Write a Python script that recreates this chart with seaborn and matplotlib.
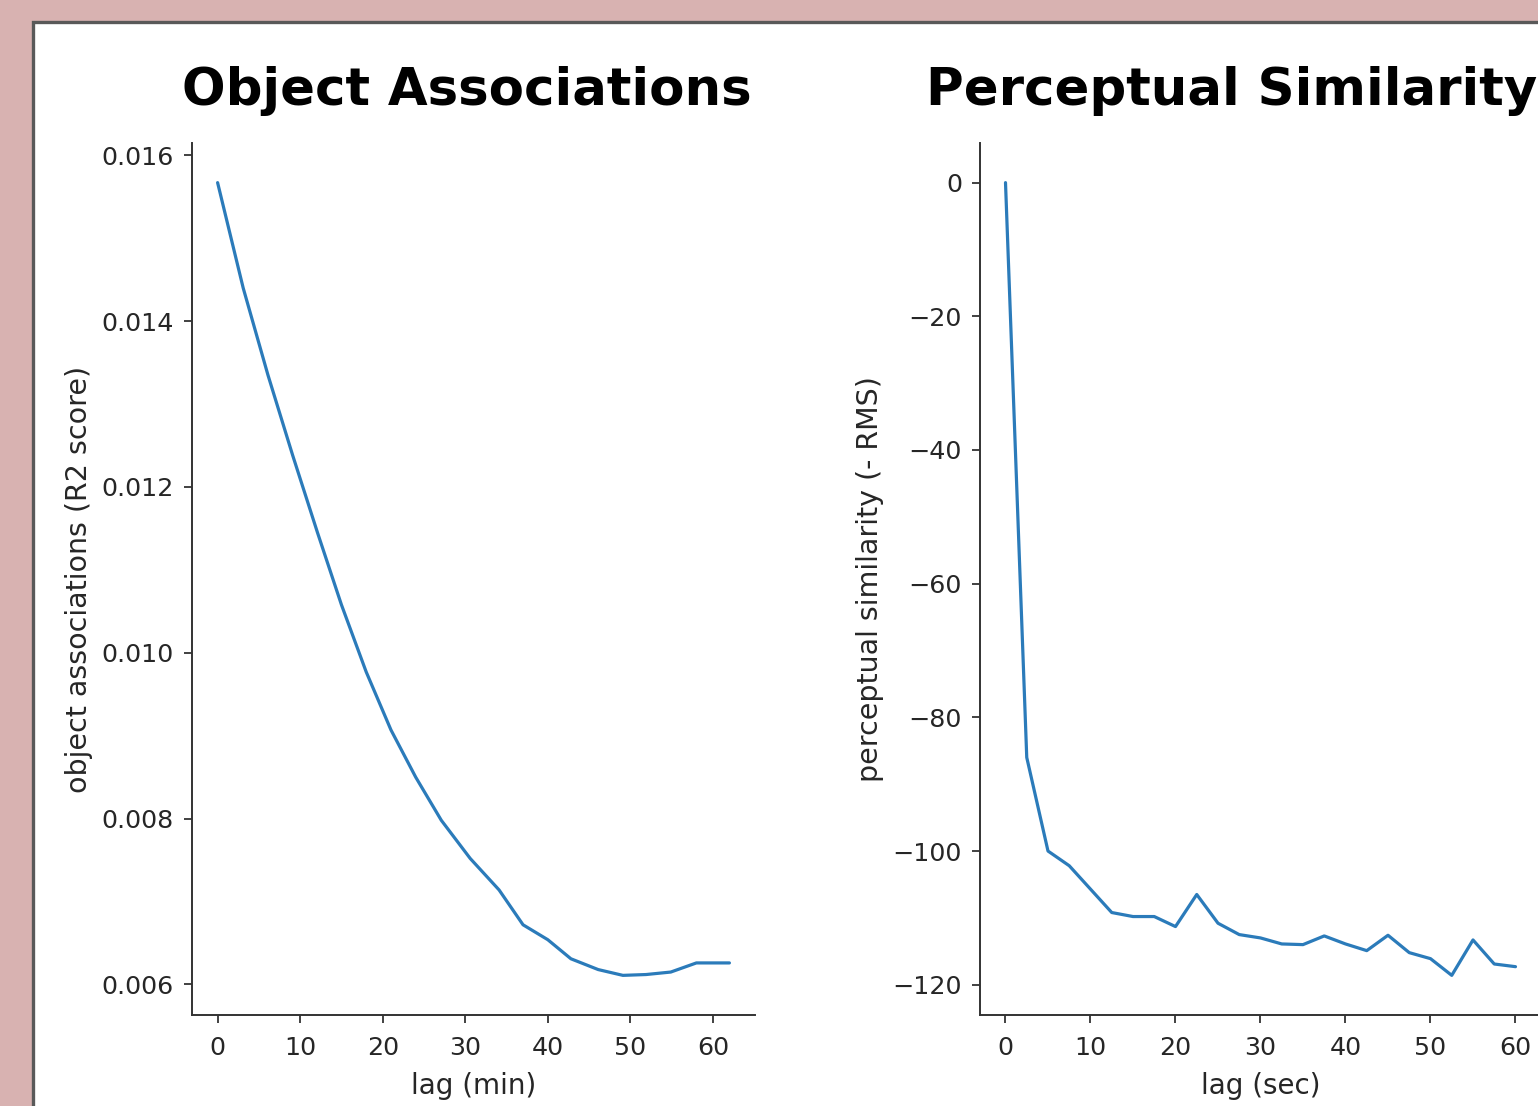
import matplotlib
matplotlib.use("Agg")
import matplotlib.pyplot as plt
from matplotlib.patches import Rectangle
import seaborn as sns
import pandas as pd

# ---- data ----
obj_lag_min = [0, 3.1, 6.1, 9.1, 12.1, 15.0, 18.0, 21.0, 24.0, 27.1, 30.6,
               34.1, 37.0, 40.0, 42.8, 46.1, 49.1, 51.9, 54.9, 58.0, 62.0]
obj_r2 = [0.01567, 0.01440, 0.01335, 0.01238, 0.01145, 0.01058, 0.00977,
          0.00907, 0.00850, 0.00798, 0.00752, 0.00714, 0.00672, 0.00654,
          0.00631, 0.00618, 0.00611, 0.00612, 0.00615, 0.00626, 0.00626]

perc_lag_sec = [0, 2.5, 5, 7.5, 10, 12.5, 15, 17.5, 20, 22.5, 25, 27.5, 30,
                32.5, 35, 37.5, 40, 42.5, 45, 47.5, 50, 52.5, 55, 57.5, 60]
perc_neg_rms = [0, -86.0, -100.0, -102.2, -105.7, -109.2, -109.8, -109.8,
                -111.3, -106.5, -110.8, -112.5, -113.0, -113.9, -114.0,
                -112.7, -113.9, -114.9, -112.6, -115.2, -116.1, -118.6,
                -113.3, -116.9, -117.3]

obj_yticks = [0.006, 0.008, 0.010, 0.012, 0.014, 0.016]
perc_yticks = [0, -20, -40, -60, -80, -100, -120]
xticks_vals = [0, 10, 20, 30, 40, 50, 60]

titles = ["Object Associations", "Perceptual Similarity"]
xlabels = ["lag (min)", "lag (sec)"]
ylabels = ["object associations (R2 score)", "perceptual similarity (- RMS)"]

df_obj = pd.DataFrame({"lag": obj_lag_min, "value": obj_r2})
df_perc = pd.DataFrame({"lag": perc_lag_sec, "value": perc_neg_rms})

# ---- style ----
sns.set_style("ticks")
plt.rcParams["font.family"] = ["DejaVu Sans"]

W, H = 1538, 1106
fig = plt.figure(figsize=(W / 100, H / 100), dpi=100)
fig.patch.set_facecolor("#d8b2b1")

# white slide panel with grey border, running off the right/bottom edges
panel = Rectangle((33 / W, -0.1), 1.2, (1 - 22 / H) + 0.1,
                  transform=fig.transFigure, facecolor="white",
                  edgecolor="#595959", linewidth=2.4, zorder=-10)
fig.patches.append(panel)

ax1 = fig.add_axes([192 / W, (H - 1015) / H, 563 / W, 872 / H])
ax2 = fig.add_axes([980 / W, (H - 1015) / H, 561 / W, 872 / H])
ax1.set_zorder(5)
ax2.set_zorder(5)

line_color = "#2b7bba"
sns.lineplot(data=df_obj, x="lag", y="value", ax=ax1, color=line_color,
             linewidth=2.3)
sns.lineplot(data=df_perc, x="lag", y="value", ax=ax2, color=line_color,
             linewidth=2.3)

title_x = [0.489, 0.449]
for i, (ax, yt) in enumerate(zip([ax1, ax2], [obj_yticks, perc_yticks])):
    ax.patch.set_alpha(0.0)
    ax.set_xticks(xticks_vals)
    ax.set_yticks(yt)
    ax.tick_params(axis="both", labelsize=18.3, length=6, width=1.3,
                   pad=7, colors="#333333", labelcolor="#262626")
    ax.tick_params(axis="x", pad=9)
    ax.set_xlabel(xlabels[i], fontsize=20, labelpad=9, color="#262626")
    ax.set_ylabel(ylabels[i], fontsize=20.5, labelpad=6, color="#262626")
    ax.set_title(titles[i], fontsize=37, fontweight="bold", pad=27,
                 x=title_x[i], color="black")
    for s in ["left", "bottom"]:
        ax.spines[s].set_linewidth(1.4)
        ax.spines[s].set_color("#333333")
    sns.despine(ax=ax)

ax1.yaxis.set_major_formatter(matplotlib.ticker.FormatStrFormatter("%.3f"))
ax1.set_xlim(-3.1, 65.1)
ax2.set_xlim(-3.0, 63.0)

fig.savefig("out.png", dpi=100, facecolor=fig.get_facecolor())
